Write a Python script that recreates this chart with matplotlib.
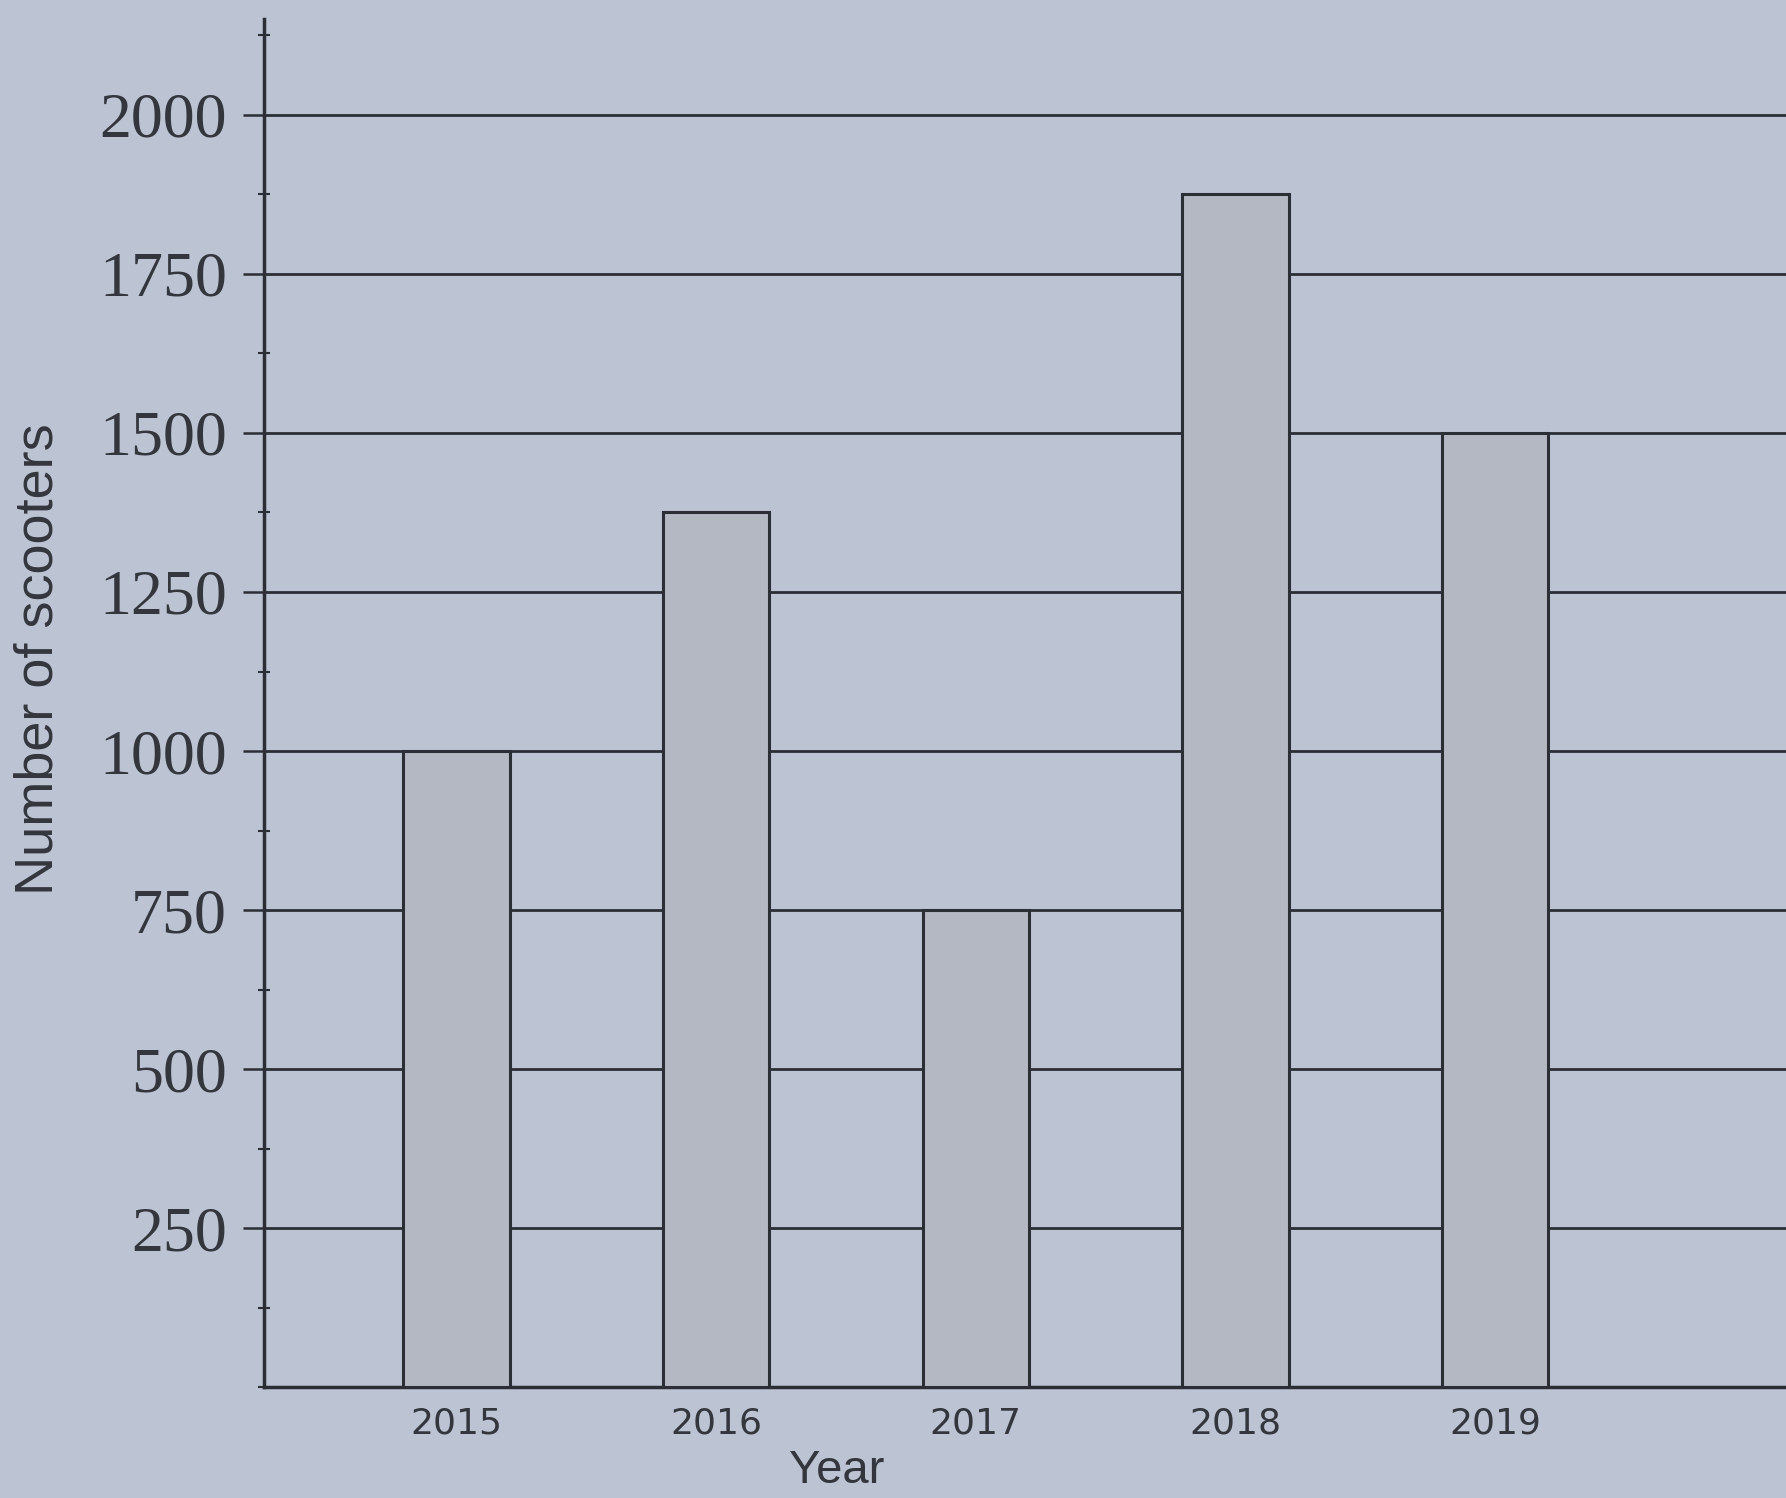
import matplotlib
matplotlib.use("Agg")
import matplotlib.pyplot as plt
from matplotlib.ticker import MultipleLocator

# Data
years = ["2015", "2016", "2017", "2018", "2019"]
scooters = [1000, 1375, 750, 1875, 1500]
y_ticks = [250, 500, 750, 1000, 1250, 1500, 1750, 2000]

paper = "#bcc3d2"
bar_fill = "#b4b8c3"
ink = "#2b2e35"

fig = plt.figure(figsize=(17.86, 14.98), dpi=100, facecolor=paper)
ax = fig.add_axes([0.148, 0.074, 0.852, 0.913])
ax.set_facecolor(paper)

x = list(range(len(years)))
ax.bar(x, scooters, width=0.41, color=bar_fill, edgecolor=ink, linewidth=2.2, zorder=3)

ax.set_xlim(-0.74, 5.12)
ax.set_ylim(0, 2150)
ax.set_yticks(y_ticks)
ax.set_yticklabels([str(v) for v in y_ticks], family="Liberation Serif", fontsize=46, color="#33363d")
ax.yaxis.set_minor_locator(MultipleLocator(125))
ax.tick_params(axis="y", which="major", direction="out", length=15, width=1.8, color=ink, pad=12)
ax.tick_params(axis="y", which="minor", direction="inout", length=8, width=1.5, color=ink)

ax.set_xticks(x)
ax.set_xticklabels(years, family="DejaVu Sans", fontsize=26, color="#33363d")
ax.tick_params(axis="x", length=0, pad=14)

ax.grid(axis="y", which="major", color=ink, linewidth=2.0, zorder=1)
ax.set_axisbelow(True)

for side in ["top", "right"]:
    ax.spines[side].set_visible(False)
for side in ["left", "bottom"]:
    ax.spines[side].set_color(ink)
    ax.spines[side].set_linewidth(2.5)

ax.set_ylabel("Number of scooters", family="Liberation Sans", fontsize=39, color="#33363d")
ax.yaxis.set_label_coords(-0.132, 0.532)
ax.set_xlabel("Year", family="Liberation Sans", fontsize=34, color="#33363d")
ax.xaxis.set_label_coords(0.376, -0.045)

fig.savefig("out.png", dpi=100, facecolor=paper)
